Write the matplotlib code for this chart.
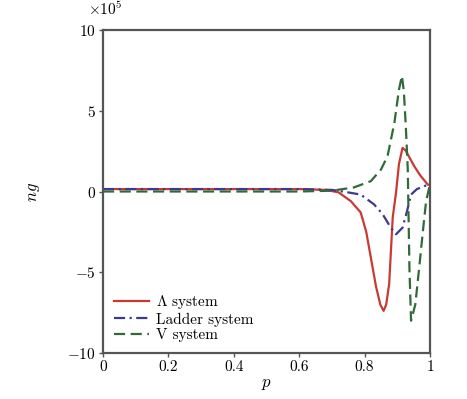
import numpy as np
import matplotlib
matplotlib.use("Agg")
import matplotlib.pyplot as plt

plt.rcParams['font.family'] = 'serif'
plt.rcParams['font.serif'] = ['cmr10', 'DejaVu Serif']
plt.rcParams['mathtext.fontset'] = 'cm'
plt.rcParams['axes.unicode_minus'] = False

# values (ng in units of 1e5)
p_lambda = [0.0, 0.3, 0.6, 0.68, 0.72, 0.758, 0.788, 0.805, 0.82, 0.835, 0.848, 0.858,
            0.866, 0.875, 0.886, 0.896, 0.905, 0.916, 0.925, 0.94, 0.952, 0.97,
            0.993, 1.0]
ng_lambda = [0.15, 0.15, 0.15, 0.1, -0.05, -0.6, -1.3, -2.5, -4.2, -5.9, -7.0, -7.39,
             -7.0, -5.74, -1.6, -0.08, 1.7, 2.70, 2.55, 2.0, 1.56, 1.0,
             0.43, 0.4]

p_ladder = [0.0, 0.3, 0.6, 0.7, 0.748, 0.788, 0.829, 0.855, 0.880, 0.896, 0.916,
            0.93, 0.942, 0.96, 0.982, 1.0]
ng_ladder = [0.15, 0.15, 0.15, 0.1, -0.05, -0.19, -0.8, -1.4, -2.24, -2.65, -2.24,
             -1.2, -0.19, 0.15, 0.33, 0.45]

p_v = [0.0, 0.3, 0.6, 0.7, 0.767, 0.819, 0.85, 0.87, 0.891, 0.905, 0.914,
       0.92, 0.926, 0.932, 0.937, 0.942, 0.955, 0.967, 0.978, 0.988, 1.0]
ng_v = [0.0, 0.0, 0.0, 0.05, 0.25, 0.64, 1.36, 2.18, 4.24, 6.3, 7.16,
        6.2, 4.03, 1.36, -4.7, -8.0, -7.0, -4.7, -2.5, -0.6, 0.45]

xticks = [0, 0.2, 0.4, 0.6, 0.8, 1]
xlabels = ['0', '0.2', '0.4', '0.6', '0.8', '1']
yticks = [-10, -5, 0, 5, 10]
ylabels = [r'$-10$', r'$-5$', r'$0$', r'$5$', r'$10$']

fig = plt.figure(figsize=(4.67, 3.99), dpi=100)
ax = fig.add_axes([0.2206, 0.1153, 0.7002, 0.8095])

ax.plot(p_lambda, ng_lambda, color='#c83a32', lw=1.6, label=r'$\Lambda$ system')
ax.plot(p_ladder, ng_ladder, color='#3b3a8e', lw=1.6, ls=(0, (5, 2, 1, 2)), label='Ladder system')
ax.plot(p_v, ng_v, color='#2f6b38', lw=1.6, ls=(0, (5, 2.5)), label='V system')

ax.set_xlim(0, 1)
ax.set_ylim(-10, 10)
ax.set_xticks(xticks)
ax.set_xticklabels(xlabels, fontsize=11)
ax.set_yticks(yticks)
ax.set_yticklabels(ylabels, fontsize=11)
ax.tick_params(direction='out', length=3, width=1, color='#555555', pad=2)
for s in ax.spines.values():
    s.set_linewidth(1.6)
    s.set_color('#555555')

ax.set_xlabel(r'$p$', fontsize=12, labelpad=2)
ax.set_ylabel(r'$ng$', fontsize=12, labelpad=18)
fig.text(0.188, 0.955, r'$\times 10^5$', fontsize=11, ha='left', va='bottom')

ax.legend(loc='lower left', frameon=False, fontsize=11, handlelength=2.3,
          handletextpad=0.5, labelspacing=0.1, borderaxespad=0.3,
          bbox_to_anchor=(0.0, 0.0))

fig.savefig('out.png', dpi=100)
